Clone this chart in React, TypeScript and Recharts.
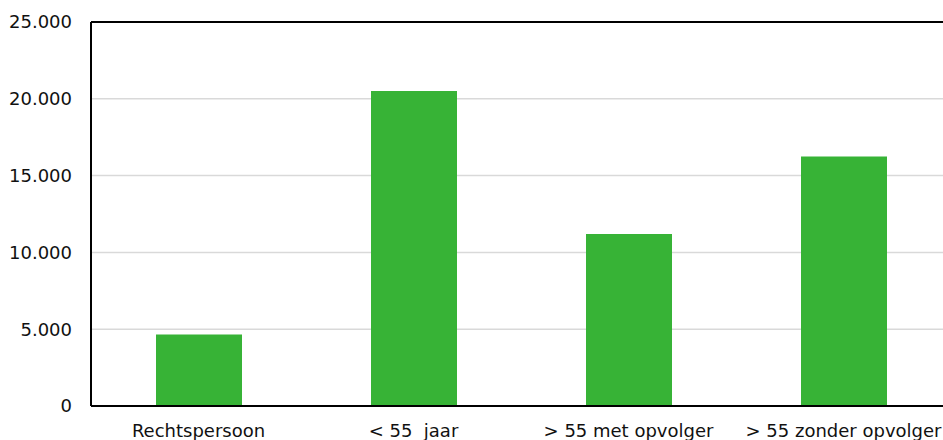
import React from "react";
import { BarChart, Bar, XAxis, YAxis, CartesianGrid, ReferenceLine } from "recharts";

const categories = ["Rechtspersoon", "< 55  jaar", "> 55 met opvolger", "> 55 zonder opvolger"];
const values = [4650, 20500, 11200, 16250];
const yTicks = [0, 5000, 10000, 15000, 20000, 25000];

const data = categories.map((c, i) => ({ name: c, value: values[i] }));

const fmt = (v: number) => (v === 0 ? "0" : v.toLocaleString("nl-NL"));

const font = "'DejaVu Sans', Verdana, sans-serif";

const XTick = (props: any) => {
  const { x, y, payload } = props;
  return (
    <text
      x={x}
      y={y + 31}
      textAnchor="middle"
      fill="#111"
      fontSize={18}
      fontFamily={font}
      style={{ whiteSpace: "pre" }}
      xmlSpace="preserve"
    >
      {payload.value}
    </text>
  );
};

export default function App() {
  return (
    <div style={{ position: "absolute", left: 0, top: 0, width: 943, height: 440, overflow: "hidden" }}>
      <div style={{ position: "absolute", left: 8, top: 8 }}>
        <BarChart
          width={943}
          height={432}
          data={data}
          margin={{ top: 14, right: 0, bottom: 0, left: 0 }}
          barCategoryGap={0}
        >
          <CartesianGrid vertical={false} stroke="#d9d9d9" strokeWidth={1.5} />
          <ReferenceLine y={25000} stroke="#000" strokeWidth={2} ifOverflow="extendDomain" />
          <XAxis
            dataKey="name"
            height={34}
            axisLine={{ stroke: "#000", strokeWidth: 2 }}
            tickLine={false}
            tickSize={0}
            tickMargin={0}
            interval={0}
            tick={<XTick />}
          />
          <YAxis
            width={83}
            domain={[0, 25000]}
            ticks={yTicks}
            tickFormatter={fmt}
            axisLine={{ stroke: "#000", strokeWidth: 2 }}
            tickLine={false}
            tickSize={0}
            tickMargin={19}
            tick={{ fill: "#111", fontSize: 18, fontFamily: font }}
          />
          <Bar dataKey="value" fill="#37b336" barSize={86} isAnimationActive={false} />
        </BarChart>
      </div>
    </div>
  );
}
